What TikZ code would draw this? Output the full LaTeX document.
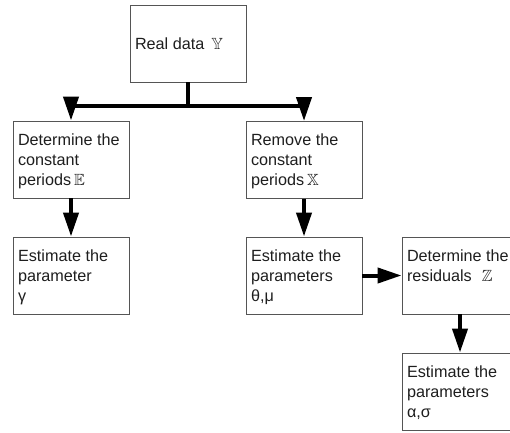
\documentclass[tikz,border=0pt]{standalone}
\usepackage{fontspec}
\usepackage{amssymb}
\setmainfont{Liberation Sans}
\usetikzlibrary{arrows.meta}
\definecolor{boxgray}{HTML}{555555}
\definecolor{textgray}{HTML}{1E1E1E}
\tikzset{
  box/.style={draw=boxgray, line width=0.9pt, inner xsep=5pt, inner ysep=0pt,
    text=textgray, font=\fontsize{16.2}{20}\selectfont},
  flow/.style={line width=4pt, -{Triangle[width=15pt,length=24pt]}},
  bus/.style={line width=4.5pt},
}
\newcommand{\boxtext}[2][10pt]{\parbox[c][77pt][t]{106pt}{\raggedright\vspace*{#1}\strut #2}}
\begin{document}
\begin{tikzpicture}[x=1pt,y=-1pt]
\path[use as bounding box, clip] (0,0) rectangle (510,432);
\node[box] (top) at (188,43.5) {\boxtext[30pt]{Real data\hspace{7pt}$\mathbb{Y}$}};
\node[box] (b2) at (71,159.5) {\boxtext{Determine the\\constant\\periods$\,\mathbb{E}$}};
\node[box] (b3) at (304,160) {\boxtext{Remove the\\constant\\periods$\,\mathbb{X}$}};
\node[box] (b4) at (71,275.5) {\boxtext{Estimate the\\parameter\\γ}};
\node[box] (b5) at (304,275.5) {\boxtext{Estimate the\\parameters\\θ,μ}};
\node[box] (b6) at (460,275.5) {\boxtext{Determine the\\residuals\hspace{10pt}$\mathbb{Z}$}};
\node[box] (b7) at (460,391.5) {\boxtext{Estimate the\\parameters\\α,σ}};
\coordinate (j) at (188,105.5);
\draw[bus] (top.south) -- (j);
\draw[flow] (j) -| (b2.north);
\draw[flow] (j) -| (b3.north);
\draw[flow] (b2.south) -- (b4.north);
\draw[flow] (b3.south) -- (b5.north);
\draw[flow] (b5.east) -- (b6.west);
\draw[flow] (b6.south) -- (b7.north);
\end{tikzpicture}
\end{document}
